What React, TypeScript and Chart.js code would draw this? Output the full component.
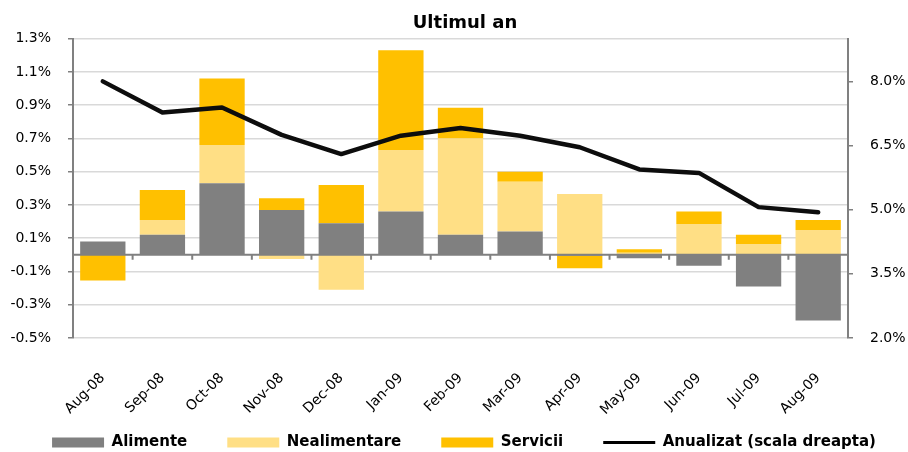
import React, { useEffect, useRef } from "react";
import { Chart, registerables } from "chart.js";

Chart.register(...registerables);

const categories = ["Aug-08", "Sep-08", "Oct-08", "Nov-08", "Dec-08", "Jan-09", "Feb-09", "Mar-09", "Apr-09", "May-09", "Jun-09", "Jul-09", "Aug-09"];
const alimente = [0.08, 0.12, 0.43, 0.27, 0.19, 0.26, 0.12, 0.14, -0.005, -0.02, -0.065, -0.19, -0.395];
const nealimentare = [0, 0.09, 0.23, -0.025, -0.21, 0.37, 0.58, 0.3, 0.365, 0.012, 0.185, 0.065, 0.15];
const servicii = [-0.155, 0.18, 0.4, 0.07, 0.23, 0.6, 0.185, 0.06, -0.075, 0.022, 0.075, 0.055, 0.06];
const anualizat = [8.0, 7.27, 7.39, 6.75, 6.3, 6.73, 6.91, 6.73, 6.46, 5.94, 5.86, 5.06, 4.94];
const leftTicks = [-0.5, -0.3, -0.1, 0.1, 0.3, 0.5, 0.7, 0.9, 1.1, 1.3];
const rightTicks = [2.0, 3.5, 5.0, 6.5, 8.0];

const FONT = "'DejaVu Sans', sans-serif";
const AXIS_GRAY = "#808080";
const LEGEND_TOP = 395;
const LEGEND_SHIFT = 10;
const TITLE_SHIFT = 11;

const zeroAxisPlugin = {
  id: "zeroAxis",
  afterLayout(chart: any) {
    const lg = chart.legend;
    if (lg) {
      lg.top = LEGEND_TOP;
      lg.bottom = chart.height;
      lg.height = chart.height - LEGEND_TOP;
      lg.left += LEGEND_SHIFT;
      lg.right += LEGEND_SHIFT;
    }
    const tb = chart.titleBlock;
    if (tb) {
      tb.left += TITLE_SHIFT;
      tb.right += TITLE_SHIFT;
    }
  },
  afterDatasetsDraw(chart: any) {
    const { ctx, chartArea, scales } = chart;
    const y = scales.y.getPixelForValue(0);
    const xs = scales.x;
    ctx.save();
    ctx.strokeStyle = AXIS_GRAY;
    ctx.lineWidth = 2;
    ctx.beginPath();
    ctx.moveTo(chartArea.left, y);
    ctx.lineTo(chartArea.right, y);
    for (let i = 1; i < categories.length; i++) {
      const bx = (xs.getPixelForValue(i - 1) + xs.getPixelForValue(i)) / 2;
      ctx.moveTo(bx, y);
      ctx.lineTo(bx, y + 5);
    }
    ctx.stroke();
    ctx.restore();
  },
};

export default function App() {
  const ref = useRef<HTMLCanvasElement>(null);
  useEffect(() => {
    const chart = new Chart(ref.current as HTMLCanvasElement, {
      type: "bar",
      data: {
        labels: categories,
        datasets: [
          { type: "bar", label: "Alimente", data: alimente, backgroundColor: "#808080", yAxisID: "y", order: 2, barPercentage: 0.76, categoryPercentage: 1 },
          { type: "bar", label: "Nealimentare", data: nealimentare, backgroundColor: "#FFDF85", yAxisID: "y", order: 2, barPercentage: 0.76, categoryPercentage: 1 },
          { type: "bar", label: "Servicii", data: servicii, backgroundColor: "#FFC000", yAxisID: "y", order: 2, barPercentage: 0.76, categoryPercentage: 1 },
          {
            type: "line", label: "Anualizat (scala dreapta)", data: anualizat, yAxisID: "y1", order: 1,
            borderColor: "#0d0d0d", backgroundColor: "#0d0d0d", borderWidth: 4.5, pointRadius: 0,
            tension: 0, borderCapStyle: "round", borderJoinStyle: "round", fill: false,
          } as any,
        ],
      },
      options: {
        responsive: false,
        animation: false,
        devicePixelRatio: 1,
        layout: { padding: 0 },
        plugins: {
          title: {
            display: true, text: "Ultimul an", color: "#000",
            font: { family: FONT, size: 18, weight: "bold", lineHeight: 1.2 },
            padding: { top: 13, bottom: 4 },
          },
          legend: {
            position: "bottom",
            maxHeight: 34,
            labels: {
              usePointStyle: true, pointStyleWidth: 52, boxHeight: 10, padding: 40, color: "#000",
              font: { family: FONT, size: 15, weight: "bold" },
              generateLabels: (c: any) =>
                c.data.datasets.map((ds: any, i: number) => ({
                  text: ds.label,
                  fillStyle: i < 3 ? ds.backgroundColor : "#000",
                  strokeStyle: i < 3 ? ds.backgroundColor : "#000",
                  lineWidth: i < 3 ? 0 : 3,
                  pointStyle: i < 3 ? "rect" : "line",
                  hidden: false,
                  datasetIndex: i,
                  fontColor: "#000",
                })),
            },
          },
          tooltip: { enabled: false },
        },
        scales: {
          x: {
            stacked: true,
            grid: { display: false, drawTicks: false },
            border: { display: false },
            ticks: { color: "#000", font: { family: FONT, size: 14 }, minRotation: 45, maxRotation: 45, padding: 32, autoSkip: false },
            afterFit: (s: any) => { s.height = 80; },
          },
          y: {
            stacked: true, position: "left", min: -0.5, max: 1.3,
            afterBuildTicks: (s: any) => { s.ticks = leftTicks.map((v) => ({ value: v })); },
            afterFit: (s: any) => { s.width = 73; },
            grid: { color: "#d9d9d9", lineWidth: 1.5, tickColor: AXIS_GRAY, tickLength: 5, drawTicks: true },
            border: { display: true, color: AXIS_GRAY, width: 2 },
            ticks: { color: "#000", font: { family: FONT, size: 14 }, padding: 17, callback: (v: any) => Number(v).toFixed(1) + "%" },
          },
          y1: {
            stacked: false, position: "right", min: 2, max: 9,
            afterBuildTicks: (s: any) => { s.ticks = rightTicks.map((v) => ({ value: v })); },
            afterFit: (s: any) => { s.width = 60; },
            grid: { drawOnChartArea: false, tickColor: AXIS_GRAY, tickLength: 5, lineWidth: 1.5 },
            border: { display: true, color: AXIS_GRAY, width: 2 },
            ticks: { color: "#000", font: { family: FONT, size: 14 }, padding: 17, callback: (v: any) => Number(v).toFixed(1) + "%" },
          },
        },
      } as any,
      plugins: [zeroAxisPlugin],
    });
    return () => chart.destroy();
  }, []);
  return (
    <div style={{ position: "fixed", left: 0, top: 0, width: 908, height: 452, background: "#fff" }}>
      <canvas ref={ref} width={908} height={452} style={{ width: 908, height: 452, display: "block" }} />
    </div>
  );
}
